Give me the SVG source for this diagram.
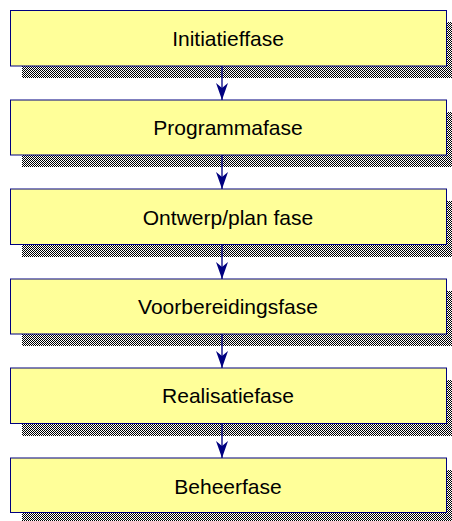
<svg xmlns="http://www.w3.org/2000/svg" width="452" height="521" viewBox="0 0 452 521">
<defs>
<pattern id="chk" patternUnits="userSpaceOnUse" width="2" height="2">
<rect x="0" y="0" width="2" height="2" fill="#ffffff"/>
<rect x="0" y="0" width="1" height="1" fill="#000000"/>
<rect x="1" y="1" width="1" height="1" fill="#000000"/>
</pattern>
<marker id="ah" markerUnits="userSpaceOnUse" markerWidth="17" markerHeight="12" refX="17" refY="6" orient="auto" viewBox="0 0 17 12">
<path d="M17,6 L0,0 L5,6 L0,12 Z" fill="#000080"/>
</marker>
</defs>
<style>
.sh{fill:url(#chk);shape-rendering:crispEdges}
.bx{fill:#ffff99;stroke:#000080;stroke-width:1}
.lb{font-family:"Liberation Sans",Arial,sans-serif;font-size:21px;fill:#000000;text-anchor:middle}
.cn{stroke:#000080;stroke-width:1.3;fill:none}
</style>
<rect width="452" height="521" fill="#ffffff"/>
<g id="n1">
<rect class="sh" x="22" y="22" width="436" height="56"/>
<rect class="bx" x="10.5" y="10.5" width="436" height="55.5"/>
<text class="lb" x="228" y="46">Initiatieffase</text>
</g>
<g id="n2">
<rect class="sh" x="22" y="112" width="436" height="55"/>
<rect class="bx" x="10.5" y="100" width="436" height="55"/>
<text class="lb" x="228" y="134.5">Programmafase</text>
</g>
<g id="n3">
<rect class="sh" x="22" y="201" width="436" height="56"/>
<rect class="bx" x="10.5" y="189" width="436" height="55.5"/>
<text class="lb" x="228" y="224.5">Ontwerp/plan fase</text>
</g>
<g id="n4">
<rect class="sh" x="22" y="291" width="436" height="55"/>
<rect class="bx" x="10.5" y="279" width="436" height="55"/>
<text class="lb" x="228" y="313.5">Voorbereidingsfase</text>
</g>
<g id="n5">
<rect class="sh" x="22" y="380" width="436" height="56"/>
<rect class="bx" x="10.5" y="368" width="436" height="55.5"/>
<text class="lb" x="228" y="403">Realisatiefase</text>
</g>
<g id="n6">
<rect class="sh" x="22" y="470" width="436" height="55"/>
<rect class="bx" x="10.5" y="458" width="436" height="54.5"/>
<text class="lb" x="228" y="493.5">Beheerfase</text>
</g>
<g id="connectors">
<line class="cn" x1="222" y1="66" x2="222" y2="100" marker-end="url(#ah)"/>
<line class="cn" x1="222" y1="155" x2="222" y2="189" marker-end="url(#ah)"/>
<line class="cn" x1="222" y1="244.5" x2="222" y2="279" marker-end="url(#ah)"/>
<line class="cn" x1="222" y1="334" x2="222" y2="368" marker-end="url(#ah)"/>
<line class="cn" x1="222" y1="423.5" x2="222" y2="458" marker-end="url(#ah)"/>
</g>
</svg>
